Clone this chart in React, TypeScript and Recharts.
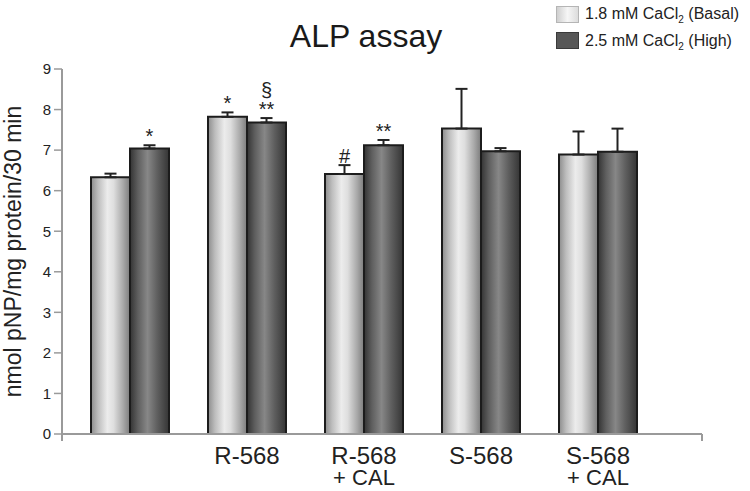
import { BarChart, Bar, XAxis, YAxis, ErrorBar, LabelList, usePlotArea } from "recharts";

// Values (nmol pNP/mg protein/30 min).
const GROUPS = ["", "R-568", "R-568\n+ CAL", "S-568", "S-568\n+ CAL"];
const BASAL = [6.33, 7.82, 6.41, 7.53, 6.89];
const HIGH = [7.04, 7.68, 7.12, 6.97, 6.96];
const BASAL_ERR = [0.09, 0.11, 0.22, 0.98, 0.57];
const HIGH_ERR = [0.08, 0.11, 0.13, 0.08, 0.57];
const BASAL_MARK = ["", "*", "#", "", ""];
const HIGH_MARK = ["*", "§\n**", "**", "", ""];
const Y_TICKS = [0, 1, 2, 3, 4, 5, 6, 7, 8, 9];

const FONT = '"Liberation Sans", Arial, sans-serif';
const INK = "#222";
const AXIS = "#9a9a9a";

const data = GROUPS.map((g, i) => ({
  group: g,
  basal: BASAL[i],
  high: HIGH[i],
  basalErr: [0, BASAL_ERR[i]],
  highErr: [0, HIGH_ERR[i]],
  basalMark: BASAL_MARK[i],
  highMark: HIGH_MARK[i],
}));

// significance marks sit just above the error bar cap
const markLabel = (vals: number[], errs: number[]) => (props: any) => {
  const { x, y, width, height, value, index } = props;
  if (!value || index == null) return null;
  const perUnit = height / vals[index];
  const capY = y - errs[index] * perUnit;
  const lines = String(value).split("\n");
  const cx = x + width / 2;
  return (
    <g>
      {lines.map((ln, k) => (
        <text
          key={k}
          x={cx}
          y={capY - 2 - (lines.length - 1 - k) * 19}
          textAnchor="middle"
          fontFamily={FONT}
          fontSize={20}
          fill={INK}
        >
          {ln}
        </text>
      ))}
    </g>
  );
};

const GroupTick = (props: any) => {
  const { x, y, payload } = props;
  const lines = String(payload.value).split("\n");
  return (
    <g>
      {lines.map((ln, k) => (
        <text
          key={k}
          x={x}
          y={y + 22 + k * 21}
          textAnchor="middle"
          fontFamily={FONT}
          fontSize={k === 0 ? 24 : 22}
          fill={INK}
        >
          {ln}
        </text>
      ))}
    </g>
  );
};

// little tick stubs below the ends of the x axis, like the original
const AxisEnds = () => {
  const area = usePlotArea();
  if (!area) return null;
  const yb = area.y + area.height;
  return (
    <g>
      <line x1={area.x} x2={area.x} y1={yb} y2={yb + 7} stroke={AXIS} strokeWidth={2} />
      <line x1={area.x + area.width} x2={area.x + area.width} y1={yb} y2={yb + 7} stroke={AXIS} strokeWidth={2} />
    </g>
  );
};

const Sub = ({ children }: { children: string }) => (
  <span style={{ fontSize: 10, position: "relative", top: 4 }}>{children}</span>
);

export default function App() {
  return (
    <div style={{ position: "absolute", left: 0, top: 0, width: 750, height: 491, background: "#fff", fontFamily: FONT }}>
      <div
        style={{
          position: "absolute",
          left: 0,
          width: 732,
          top: 20,
          textAlign: "center",
          fontSize: 32,
          lineHeight: "32px",
          color: "#1a1a1a",
        }}
      >
        ALP assay
      </div>

      {/* Legend */}
      <div
        style={{
          position: "absolute",
          left: 556,
          top: 6,
          width: 21,
          height: 15,
          border: "1px solid #b5b5b5",
          background: "linear-gradient(90deg, #cfcfcf, #f6f6f6 50%, #dcdcdc)",
        }}
      />
      <div
        style={{
          position: "absolute",
          left: 556,
          top: 32,
          width: 21,
          height: 15,
          border: "1px solid #3a3a3a",
          background: "#575757",
        }}
      />
      <div style={{ position: "absolute", left: 585, top: 5.5, fontSize: 16, lineHeight: "16px", color: INK, whiteSpace: "nowrap" }}>
        1.8 mM CaCl<Sub>2</Sub> (Basal)
      </div>
      <div style={{ position: "absolute", left: 585, top: 33, fontSize: 16, lineHeight: "16px", color: INK, whiteSpace: "nowrap" }}>
        2.5 mM CaCl<Sub>2</Sub> (High)
      </div>

      <BarChart
        width={750}
        height={491}
        data={data}
        margin={{ top: 69, right: 48, bottom: 0, left: 0 }}
        barGap={0}
        barCategoryGap={19.5}
        style={{ position: "absolute", left: 0, top: 0 }}
      >
        <defs>
          <linearGradient id="gLight" x1="0" y1="0" x2="1" y2="0">
            <stop offset="0%" stopColor="#8c8c8c" />
            <stop offset="18%" stopColor="#bdbdbd" />
            <stop offset="42%" stopColor="#ececec" />
            <stop offset="58%" stopColor="#dedede" />
            <stop offset="82%" stopColor="#a9a9a9" />
            <stop offset="100%" stopColor="#7c7c7c" />
          </linearGradient>
          <linearGradient id="gDark" x1="0" y1="0" x2="1" y2="0">
            <stop offset="0%" stopColor="#333" />
            <stop offset="20%" stopColor="#5e5e5e" />
            <stop offset="45%" stopColor="#878787" />
            <stop offset="70%" stopColor="#5f5f5f" />
            <stop offset="100%" stopColor="#353535" />
          </linearGradient>
        </defs>
        <XAxis
          dataKey="group"
          height={57}
          padding={{ left: 9.5, right: 45.5 }}
          tickLine={false}
          axisLine={{ stroke: AXIS, strokeWidth: 2 }}
          tick={<GroupTick />}
          interval={0}
        />
        <YAxis
          width={62}
          domain={[0, 9]}
          ticks={Y_TICKS}
          interval={0}
          tickSize={8}
          tickMargin={3}
          tickLine={{ stroke: AXIS, strokeWidth: 1.5 }}
          axisLine={{ stroke: AXIS, strokeWidth: 2 }}
          tick={{ fill: INK, fontSize: 15, fontFamily: FONT }}
          label={{
            value: "nmol pNP/mg protein/30 min",
            angle: -90,
            position: "insideLeft",
            dx: 8,
            fill: INK,
            fontSize: 23,
            fontFamily: FONT,
            style: { textAnchor: "middle" },
          }}
        />
        <Bar dataKey="basal" fill="url(#gLight)" stroke="#1c1c1c" strokeWidth={2} isAnimationActive={false}>
          <ErrorBar dataKey="basalErr" width={6} stroke={INK} strokeWidth={2} />
          <LabelList dataKey="basalMark" content={markLabel(BASAL, BASAL_ERR)} />
        </Bar>
        <Bar dataKey="high" fill="url(#gDark)" stroke="#1c1c1c" strokeWidth={2} isAnimationActive={false}>
          <ErrorBar dataKey="highErr" width={6} stroke={INK} strokeWidth={2} />
          <LabelList dataKey="highMark" content={markLabel(HIGH, HIGH_ERR)} />
        </Bar>
        <AxisEnds />
      </BarChart>
    </div>
  );
}
